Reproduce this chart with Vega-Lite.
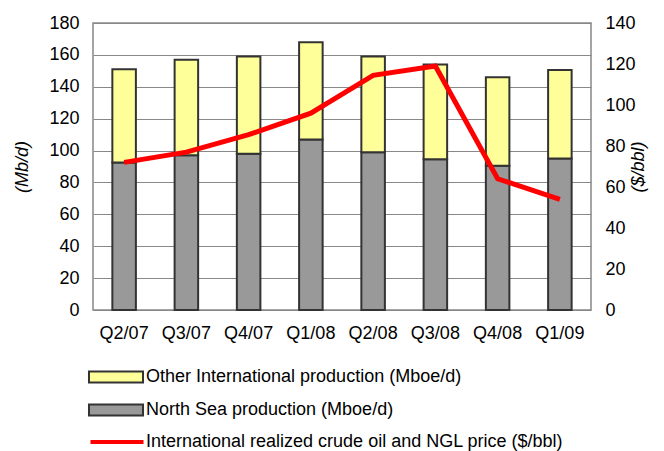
{
  "$schema": "https://vega.github.io/schema/vega-lite/v6.json",
  "width": 498,
  "height": 287,
  "autosize": {"type": "none"},
  "padding": {"left": 93, "top": 23, "right": 73, "bottom": 141},
  "background": "white",
  "config": {
    "font": "Liberation Sans",
    "view": {"stroke": "#888888", "strokeWidth": 1.5},
    "axis": {"labelFontSize": 18, "labelColor": "#000000", "titleFontSize": 18, "titleColor": "#000000", "titleFontWeight": "normal", "ticks": false, "domain": false},
    "legend": {"labelFontSize": 18, "labelColor": "#000000", "labelLimit": 0}
  },
  "datasets": {
    "production": [
      {"quarter": "Q2/07", "series": "North Sea production (Mboe/d)", "value": 92.5},
      {"quarter": "Q2/07", "series": "Other International production (Mboe/d)", "value": 58.5},
      {"quarter": "Q3/07", "series": "North Sea production (Mboe/d)", "value": 97},
      {"quarter": "Q3/07", "series": "Other International production (Mboe/d)", "value": 60},
      {"quarter": "Q4/07", "series": "North Sea production (Mboe/d)", "value": 98},
      {"quarter": "Q4/07", "series": "Other International production (Mboe/d)", "value": 61},
      {"quarter": "Q1/08", "series": "North Sea production (Mboe/d)", "value": 107},
      {"quarter": "Q1/08", "series": "Other International production (Mboe/d)", "value": 61},
      {"quarter": "Q2/08", "series": "North Sea production (Mboe/d)", "value": 99},
      {"quarter": "Q2/08", "series": "Other International production (Mboe/d)", "value": 60},
      {"quarter": "Q3/08", "series": "North Sea production (Mboe/d)", "value": 94.5},
      {"quarter": "Q3/08", "series": "Other International production (Mboe/d)", "value": 59.5},
      {"quarter": "Q4/08", "series": "North Sea production (Mboe/d)", "value": 90.5},
      {"quarter": "Q4/08", "series": "Other International production (Mboe/d)", "value": 55.5},
      {"quarter": "Q1/09", "series": "North Sea production (Mboe/d)", "value": 95},
      {"quarter": "Q1/09", "series": "Other International production (Mboe/d)", "value": 55.5}
    ],
    "price": [
      {"quarter": "Q2/07", "series": "International realized crude oil and NGL price ($/bbl)", "price": 72},
      {"quarter": "Q3/07", "series": "International realized crude oil and NGL price ($/bbl)", "price": 77},
      {"quarter": "Q4/07", "series": "International realized crude oil and NGL price ($/bbl)", "price": 85.5},
      {"quarter": "Q1/08", "series": "International realized crude oil and NGL price ($/bbl)", "price": 96},
      {"quarter": "Q2/08", "series": "International realized crude oil and NGL price ($/bbl)", "price": 114.5},
      {"quarter": "Q3/08", "series": "International realized crude oil and NGL price ($/bbl)", "price": 119},
      {"quarter": "Q4/08", "series": "International realized crude oil and NGL price ($/bbl)", "price": 64},
      {"quarter": "Q1/09", "series": "International realized crude oil and NGL price ($/bbl)", "price": 54}
    ]
  },
  "encoding": {
    "x": {
      "field": "quarter", "type": "nominal", "sort": null,
      "axis": {"title": null, "labelAngle": 0, "labelPadding": 14, "grid": false}
    }
  },
  "layer": [
    {
      "data": {"name": "production"},
      "mark": {"type": "bar", "width": {"band": 0.42}, "stroke": "#333333", "strokeWidth": 2},
      "encoding": {
        "y": {
          "field": "value", "type": "quantitative", "stack": "zero",
          "scale": {"domain": [0, 180], "nice": false},
          "axis": {"title": "(Mb/d)", "titleFontStyle": "italic", "values": [0, 20, 40, 60, 80, 100, 120, 140, 160, 180], "grid": true, "gridColor": "#888888", "gridWidth": 1, "labelPadding": 14, "titlePadding": 17}
        },
        "fill": {
          "field": "series", "type": "nominal",
          "scale": {"domain": ["Other International production (Mboe/d)", "North Sea production (Mboe/d)"], "range": ["#FFFF99", "#999999"]},
          "legend": {
            "title": null, "orient": "none", "legendX": 11, "legendY": 342,
            "symbolType": "M-2.5,-0.52H2.5V0.52H-2.5Z", "symbolSize": 467,
            "symbolStrokeColor": "#333333", "symbolStrokeWidth": 2,
            "labelOffset": 18, "rowPadding": 11
          }
        },
        "order": {"field": "series", "sort": "ascending"}
      }
    },
    {
      "data": {"name": "price"},
      "mark": {"type": "line", "strokeWidth": 5},
      "encoding": {
        "y": {
          "field": "price", "type": "quantitative",
          "scale": {"domain": [0, 140], "nice": false},
          "axis": {"orient": "right", "title": "($/bbl)", "titleFontStyle": "italic", "titleAngle": -90, "values": [0, 20, 40, 60, 80, 100, 120, 140], "grid": false, "labelPadding": 14, "titlePadding": 12}
        },
        "stroke": {
          "field": "series", "type": "nominal",
          "scale": {"range": ["#FF0000"]},
          "legend": {
            "title": null, "orient": "none", "legendX": 11, "legendY": 406,
            "symbolType": "M-2.5,0H2.5", "symbolSize": 450,
            "symbolStrokeWidth": 4, "labelOffset": 16
          }
        }
      }
    }
  ],
  "resolve": {"scale": {"y": "independent"}}
}
